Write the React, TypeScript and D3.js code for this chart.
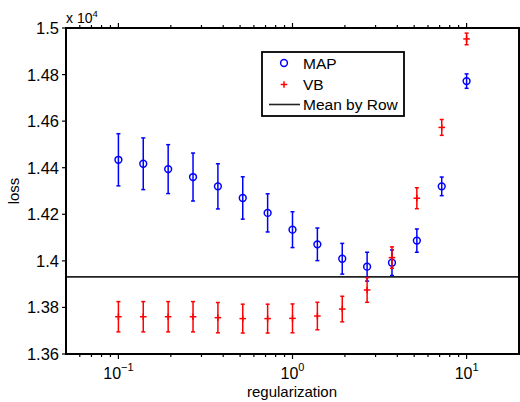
import React from 'react';
import * as d3 from 'd3';

// regularization values (logspace -1..1, 15 points)
const lambdas = [0.1, 0.1389, 0.1931, 0.2683, 0.3728, 0.5179, 0.7197, 1, 1.3895, 1.9307, 2.6827, 3.7276, 5.1795, 7.1969, 10];

// loss values (x 10^4)
const mapLoss = [1.4434, 1.4417, 1.4394, 1.4360, 1.4320, 1.4270, 1.4206, 1.4134, 1.4071, 1.4009, 1.3975, 1.3992, 1.4087, 1.4320, 1.4772];
const mapErr = [0.0112, 0.0111, 0.0105, 0.0103, 0.0097, 0.0091, 0.0082, 0.0077, 0.0070, 0.0066, 0.0062, 0.0055, 0.0050, 0.0040, 0.0031];
const vbLoss = [1.3760, 1.3760, 1.3760, 1.3760, 1.3756, 1.3752, 1.3752, 1.3753, 1.3763, 1.3793, 1.3875, 1.4014, 1.4269, 1.4573, 1.4953];
const vbErr = [0.0065, 0.0065, 0.0065, 0.0065, 0.0065, 0.0062, 0.0062, 0.0062, 0.0059, 0.0055, 0.0053, 0.0046, 0.0045, 0.0034, 0.0025];
const meanByRow = 1.3931;

const yTicks = [1.36, 1.38, 1.4, 1.42, 1.44, 1.46, 1.48, 1.5];
const xMajor = [0.1, 1, 10];
const xExp = ['\u22121', '0', '1'];

const W = 520;
const H = 402;
const left = 66, right = 519, top = 28, bottom = 354;
const font = 'Liberation Sans, Arial, Helvetica, sans-serif';

const App = () => {
    const x = d3.scaleLog().domain([0.05, 20]).range([left, right]);
    const y = d3.scaleLinear().domain([1.36, 1.5]).range([bottom, top]);

    const minor = x.ticks().filter(t => !xMajor.some(m => Math.abs(m - t) < 1e-9) && x(t) > left + 1 && x(t) < right - 1);

    const blue = '#0000ff';
    const red = '#ff0000';

    return (
        <svg width={W} height={H} style={{ position: 'absolute', left: 0, top: 0, background: '#fff' }} fontFamily={font}>
            <rect x={0} y={0} width={W} height={H} fill="#fff" />

            {/* mean by row */}
            <line x1={left} x2={right} y1={y(meanByRow)} y2={y(meanByRow)} stroke="#222" strokeWidth={1.6} />

            {/* MAP */}
            {lambdas.map((l, i) => {
                const cx = x(l);
                return (
                    <g key={'m' + i} stroke={blue} strokeWidth={1.5} fill="none">
                        <line x1={cx} x2={cx} y1={y(mapLoss[i] + mapErr[i])} y2={y(mapLoss[i] - mapErr[i])} />
                        <line x1={cx - 2} x2={cx + 2} y1={y(mapLoss[i] + mapErr[i])} y2={y(mapLoss[i] + mapErr[i])} />
                        <line x1={cx - 2} x2={cx + 2} y1={y(mapLoss[i] - mapErr[i])} y2={y(mapLoss[i] - mapErr[i])} />
                        <circle cx={cx} cy={y(mapLoss[i])} r={3.4} />
                    </g>
                );
            })}

            {/* VB */}
            {lambdas.map((l, i) => {
                const cx = x(l);
                return (
                    <g key={'v' + i} stroke={red} strokeWidth={1.5} fill="none">
                        <line x1={cx} x2={cx} y1={y(vbLoss[i] + vbErr[i])} y2={y(vbLoss[i] - vbErr[i])} />
                        <line x1={cx - 2} x2={cx + 2} y1={y(vbLoss[i] + vbErr[i])} y2={y(vbLoss[i] + vbErr[i])} />
                        <line x1={cx - 2} x2={cx + 2} y1={y(vbLoss[i] - vbErr[i])} y2={y(vbLoss[i] - vbErr[i])} />
                        <line x1={cx - 3.3} x2={cx + 3.3} y1={y(vbLoss[i])} y2={y(vbLoss[i])} />
                        <line x1={cx} x2={cx} y1={y(vbLoss[i]) - 3.3} y2={y(vbLoss[i]) + 3.3} />
                    </g>
                );
            })}

            {/* axes box */}
            <rect x={left} y={top} width={right - left} height={bottom - top} fill="none" stroke="#000" strokeWidth={2} />

            {/* y ticks */}
            {yTicks.map(t => (
                <g key={'y' + t}>
                    <line x1={left - 4} x2={left} y1={y(t)} y2={y(t)} stroke="#000" strokeWidth={1.2} />
                    <line x1={right} x2={right + 4} y1={y(t)} y2={y(t)} stroke="#000" strokeWidth={1.2} />
                    <text x={59} y={y(t)} dy="0.36em" textAnchor="end" fontSize={16.5} fill="#000">{d3.format('~g')(t)}</text>
                </g>
            ))}

            {/* x ticks */}
            {xMajor.map((t, i) => (
                <g key={'x' + t}>
                    <line x1={x(t)} x2={x(t)} y1={bottom} y2={bottom + 5} stroke="#000" strokeWidth={1.2} />
                    <line x1={x(t)} x2={x(t)} y1={top} y2={top - 5} stroke="#000" strokeWidth={1.2} />
                    <text x={x(t)} y={379} textAnchor="middle" fontSize={16} fill="#000">
                        10<tspan dy={-8} fontSize={11}>{xExp[i]}</tspan>
                    </text>
                </g>
            ))}
            {minor.map(t => (
                <g key={'mx' + t}>
                    <line x1={x(t)} x2={x(t)} y1={bottom} y2={bottom + 3} stroke="#000" strokeWidth={1.2} />
                    <line x1={x(t)} x2={x(t)} y1={top} y2={top - 3} stroke="#000" strokeWidth={1.2} />
                </g>
            ))}

            {/* exponent label */}
            <text x={66} y={23} fontSize={14} fill="#000">
                x 10<tspan dy={-6} fontSize={9.5}>4</tspan>
            </text>

            {/* axis labels */}
            <text x={292} y={397} textAnchor="middle" fontSize={15} fill="#000">regularization</text>
            <text transform={`translate(19,${(top + bottom) / 2}) rotate(-90)`} textAnchor="middle" fontSize={15} fill="#000">loss</text>

            {/* legend */}
            <g>
                <rect x={262} y={52} width={142} height={64} fill="#fff" stroke="#000" strokeWidth={1.8} />
                <circle cx={284} cy={63} r={3.4} fill="none" stroke={blue} strokeWidth={1.5} />
                <text x={303} y={63} dy="0.36em" fontSize={15.5} fill="#000">MAP</text>
                <g stroke={red} strokeWidth={1.5}>
                    <line x1={280.7} x2={287.3} y1={84.5} y2={84.5} />
                    <line x1={284} x2={284} y1={81.2} y2={87.8} />
                </g>
                <text x={303} y={84.5} dy="0.36em" fontSize={15.5} fill="#000">VB</text>
                <line x1={269} x2={300} y1={104.5} y2={104.5} stroke="#222" strokeWidth={1.6} />
                <text x={303} y={104.5} dy="0.36em" fontSize={15.5} fill="#000">Mean by Row</text>
            </g>
        </svg>
    );
};

export default App;
